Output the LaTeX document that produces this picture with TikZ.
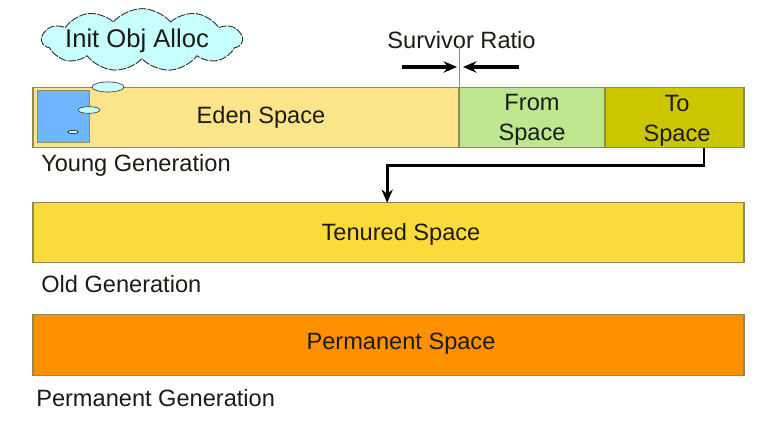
\documentclass[tikz,border=0pt]{standalone}
\usepackage{xcolor}
\usepackage{fontspec}
\setmainfont{Liberation Sans}
\usetikzlibrary{positioning, arrows.meta, shapes.symbols, shapes.geometric}
\definecolor{edenFill}{HTML}{FCE48A}
\definecolor{fromFill}{HTML}{BDE68F}
\definecolor{toFill}{HTML}{CCC600}
\definecolor{tenuredFill}{HTML}{FBDB3A}
\definecolor{permFill}{HTML}{FF9000}
\definecolor{objFill}{HTML}{6FB5FF}
\definecolor{cloudFill}{HTML}{C8FFFF}
\definecolor{spaceB}{HTML}{8F8A5A}
\definecolor{inkText}{HTML}{1C1C14}
\begin{document}
\begin{tikzpicture}[x=0.75pt,y=-0.75pt,
spc/.style={draw=spaceB, line width=0.8pt, minimum height=45.5pt, inner sep=0pt, outer sep=0pt},
lbl/.style={font=\fontsize{17.7pt}{22.5pt}\selectfont, text=inkText, inner sep=0pt, align=center},
blob/.style={ellipse, draw=black!75, fill=cloudFill, line width=0.5pt, inner sep=0pt},
arr/.style={-{Stealth[length=10pt,width=8.5pt]}, line width=2pt, color=black}]
\useasboundingbox (0,0) rectangle (778,431);
% young generation
\node[spc, fill=edenFill, minimum width=319.5pt] (eden) at (246,117.5) {};
\node[spc, fill=fromFill, minimum width=109.5pt, right=0pt of eden] (from) {};
\node[spc, fill=toFill, minimum width=104.25pt, right=0pt of from] (tosp) {};
\node[lbl] (edenlbl) at (261,117) {Eden Space};
\node[lbl] (fromlbl) at (532,120) {From\\Space};
\node[lbl] (tolbl) at (677,121) {To\\Space};
\node[draw=spaceB, fill=objFill, line width=0.6pt, minimum size=39pt, inner sep=0pt] (obj) at (63,116) {};
\node[blob, minimum width=24pt, minimum height=7.5pt] (b1) at (108,87) {};
\node[blob, minimum width=16.5pt, minimum height=5pt] (b2) at (89,110) {};
\node[blob, draw=black!85, minimum width=8pt, minimum height=2.5pt] (b3) at (73,132) {};
\node[cloud, cloud puffs=11, cloud puff arc=100, aspect=2.9, draw=black!80, dash pattern=on 6pt off 1pt, fill=cloudFill, line width=0.7pt, minimum width=150pt, minimum height=47pt, inner sep=0pt] (cld) at (142,40) {};
\node[lbl, font=\fontsize{19.2pt}{23pt}\selectfont] (init) at (137,41) {Init Obj Alloc};
\node[lbl, anchor=west] (young) at (41,165) {Young Generation};
% tenured and permanent
\node[spc, fill=tenuredFill, minimum width=533.25pt, minimum height=44.5pt] (ten) at (388.5,232.5) {};
\node[lbl] (tenlbl) at (401,234) {Tenured Space};
\node[lbl, anchor=west] (old) at (41,284) {Old Generation};
\node[spc, fill=permFill, minimum width=533.25pt] (perm) at (388.5,345) {};
\node[lbl] (permlbl) at (401,343.5) {Permanent Space};
\node[lbl, anchor=west] (pgen) at (36,398) {Permanent Generation};
% survivor ratio
\node[lbl] (ratio) at (461.5,40) {Survivor Ratio};
\coordinate (arL) at (402,67);
\coordinate (arR) at (519,67);
\coordinate (arM) at (459,67);
\draw[black!45, line width=0.5pt] (eden.north east) -- ++(0,-40);
\draw[arr, line width=2.4pt] (arL) -- ([xshift=-1.5pt]arM);
\draw[arr, line width=2.4pt] (arR) -- ([xshift=3pt]arM);
% promotion
\draw[arr] ([xshift=22pt]tosp.south) -- ++(0,18) -| ([xshift=-1pt]ten.north);
\end{tikzpicture}
\end{document}
